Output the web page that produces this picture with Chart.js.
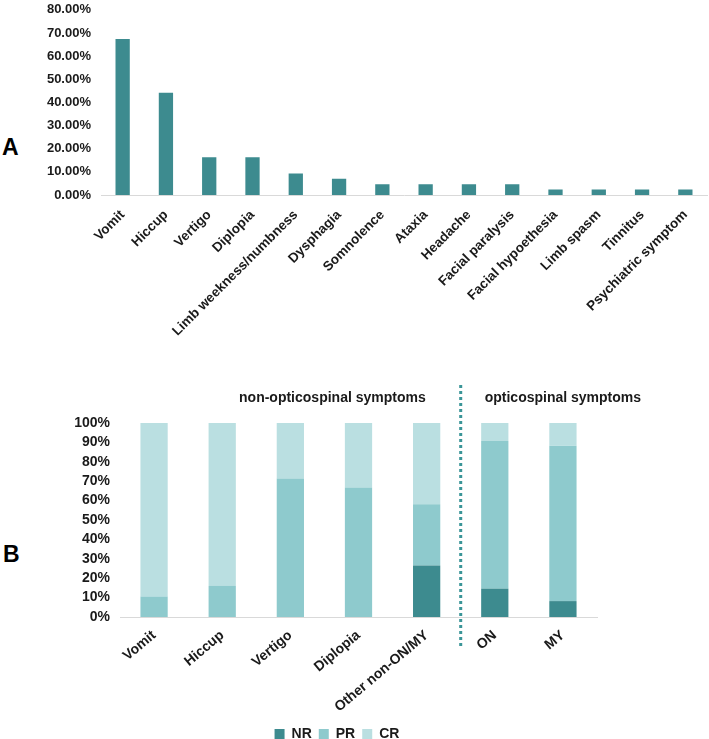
<!DOCTYPE html>
<html>
<head>
<meta charset="utf-8">
<script src="https://cdn.jsdelivr.net/npm/chart.js@4.4.0/dist/chart.umd.min.js"></script>
<style>
  body { margin: 0; background: #fff; width: 709px; height: 739px; overflow: hidden; position: relative; font-family: "Liberation Sans", Arial, sans-serif; }
  .panel { position: absolute; font-weight: bold; font-size: 23px; color: #000; }
  canvas { position: absolute; }
</style>
</head>
<body>
<div class="panel" style="left:2px; top:134px;">A</div>
<div class="panel" style="left:3px; top:541px;">B</div>
<canvas id="top"></canvas>
<canvas id="bottom"></canvas>
<script>
const symptoms = ['Vomit', 'Hiccup', 'Vertigo', 'Diplopia', 'Limb weekness/numbness', 'Dysphagia',
    'Somnolence', 'Ataxia', 'Headache', 'Facial paralysis', 'Facial hypoethesia', 'Limb spasm',
    'Tinnitus', 'Psychiatric symptom']
const frequency = [67.44, 44.19, 16.28, 16.28, 9.30, 6.98, 4.65, 4.65, 4.65, 4.65, 2.33, 2.33, 2.33, 2.33]

const groups = ['Vomit', 'Hiccup', 'Vertigo', 'Diplopia', 'Other non-ON/MY', 'ON', 'MY']
const nrShare = [0, 0, 0, 0, 26.6, 14.6, 8.2]
const prShare = [10.5, 16.0, 71.4, 66.7, 31.5, 76.1, 80.1]
const crShare = [89.5, 84.0, 28.6, 33.3, 41.9, 9.3, 11.7]
const sectionTitles = ['non-opticospinal symptoms', 'opticospinal symptoms']

const teal = '#3d8b8f'
const font = 'Liberation Sans, Arial, sans-serif'
const ink = '#1a1a1a'

function place(id, left, top, w, h) {
    const c = document.getElementById(id)
    c.style.left = left + 'px'
    c.style.top = top + 'px'
    c.width = w
    c.height = h
    return c
}

// panel A (canvas shifted up so the 80% tick sits near the top edge)
const topCanvas = place('top', 0, -8, 709, 363)
new Chart(topCanvas, {
    type: 'bar',
    data: {
        labels: symptoms,
        datasets: [{
            data: frequency,
            backgroundColor: teal,
            categoryPercentage: 1.0,
            barPercentage: 0.33
        }]
    },
    options: {
        responsive: false,
        animation: false,
        layout: { padding: { left: 0, right: 2, top: 0, bottom: 0 } },
        plugins: { legend: { display: false }, tooltip: { enabled: false } },
        scales: {
            x: {
                grid: { display: false, drawTicks: false },
                border: { display: true, color: '#d9d9d9', width: 1 },
                ticks: {
                    minRotation: 45, maxRotation: 45, padding: 12, autoSkip: false,
                    color: ink, font: { family: font, size: 13.5, weight: 'bold' }
                },
                afterFit: s => { s.height = 160 }
            },
            y: {
                min: 0, max: 80,
                grid: { display: false, drawTicks: false },
                border: { display: false },
                ticks: {
                    stepSize: 10, padding: 10, autoSkip: false,
                    color: ink, font: { family: font, size: 13, weight: 'bold' },
                    callback: v => v.toFixed(2) + '%'
                },
                afterFit: s => { s.width = 101 }
            }
        }
    }
})

// divider line + section titles for panel B
const sections = {
    id: 'sections',
    afterDraw(chart) {
        const x = chart.scales.x.getPixelForValue(4.5)
        const ctx = chart.ctx
        ctx.save()
        ctx.strokeStyle = '#3a9598'
        ctx.lineWidth = 3
        ctx.setLineDash([3, 3])
        ctx.beginPath()
        ctx.moveTo(x, 10)
        ctx.lineTo(x, 272)
        ctx.stroke()
        ctx.setLineDash([])
        ctx.fillStyle = ink
        ctx.font = 'bold 14px ' + font
        ctx.textBaseline = 'middle'
        ctx.textAlign = 'right'
        ctx.fillText(sectionTitles[0], x - 35, 23)
        ctx.textAlign = 'left'
        ctx.fillText(sectionTitles[1], x + 24, 23)
        ctx.restore()
    }
}

// panel B
const bottomCanvas = place('bottom', 0, 375, 674, 376)
new Chart(bottomCanvas, {
    type: 'bar',
    data: {
        labels: groups,
        datasets: [
            { label: 'NR', data: nrShare, backgroundColor: teal },
            { label: 'PR', data: prShare, backgroundColor: '#8ecacd' },
            { label: 'CR', data: crShare, backgroundColor: '#badfe1' }
        ]
    },
    options: {
        responsive: false,
        animation: false,
        datasets: { bar: { categoryPercentage: 1.0, barPercentage: 0.4 } },
        layout: { padding: { left: 0, right: 0, top: 48, bottom: 0 } },
        plugins: {
            tooltip: { enabled: false },
            legend: {
                position: 'bottom',
                labels: {
                    boxWidth: 10, boxHeight: 10, padding: 7,
                    color: ink, font: { family: font, size: 14, weight: 'bold' }
                }
            }
        },
        scales: {
            x: {
                stacked: true,
                grid: { display: false, drawTicks: false },
                border: { display: true, color: '#d9d9d9', width: 1 },
                ticks: {
                    minRotation: 40, maxRotation: 40, padding: 10, autoSkip: false,
                    color: ink, font: { family: font, size: 14, weight: 'bold' }
                },
                afterFit: s => { s.height = 103 }
            },
            y: {
                stacked: true,
                min: 0, max: 100,
                grid: { display: false, drawTicks: false },
                border: { display: false },
                ticks: {
                    stepSize: 10, padding: 10, autoSkip: false, maxTicksLimit: 20,
                    color: ink, font: { family: font, size: 14, weight: 'bold' },
                    callback: v => v + '%'
                },
                afterFit: s => { s.width = 120 }
            },
            // empty right-hand spacer so the legend stays centred on the whole canvas
            spacer: {
                type: 'linear',
                position: 'right',
                grid: { display: false },
                border: { display: false },
                ticks: { display: false },
                afterFit: s => { s.width = 77 }
            }
        }
    },
    plugins: [sections]
})
</script>
</body>
</html>
